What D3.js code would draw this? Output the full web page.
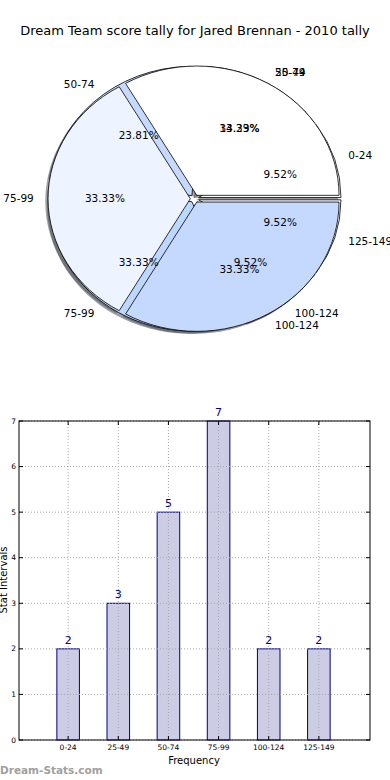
<!DOCTYPE html>
<html><head><meta charset="utf-8">
<script src="https://cdn.jsdelivr.net/npm/d3@7"></script>
<style>body{margin:0;background:#fff}svg{display:block}text{font-family:"DejaVu Sans",sans-serif}</style>
</head><body>
<svg id="c" width="390" height="780"></svg>
<script>
const categories = ["0-24","25-49","50-74","75-99","100-124","125-149"];
const values = [2,3,5,7,2,2];
const pie2Labels = ["50-74","75-99","100-124"];
const pie2Values = [7,7,7];
const pie1Colors = ["#ffffff","#eef3fe","#c6daff","#bcd8ff","#c6daff","#ffffff"];
const pie2Colors = ["#ffffff","#edf3ff","#c5d9ff"];
const yTicks = [0,1,2,3,4,5,6,7];
const title = "Dream Team score tally for Jared Brennan - 2010 tally";

const svg = d3.select("#c");
svg.append("text").attr("x",195).attr("y",35).attr("text-anchor","middle")
  .attr("font-size",13).attr("fill","#000").text(title);

// ---- Pie ----
const cx=194.6, cy=198.7, rx=142.3, ry=129.3;
const explodes=[0.03,0.03];
const pieGen = d3.pie().sort(null).startAngle(Math.PI/2).endAngle(Math.PI/2-2*Math.PI);
const arcGen = d3.arc().innerRadius(0).outerRadius(1);
const pies = [
  {arcs: pieGen(values), labels: categories, colors: pie1Colors, total: d3.sum(values), e: explodes[0]},
  {arcs: pieGen(pie2Values), labels: pie2Labels, colors: pie2Colors, total: d3.sum(pie2Values), e: explodes[1]}
];
function off(a){ const m=(a.startAngle+a.endAngle)/2; return [Math.sin(m), -Math.cos(m)]; }
const gShadow = svg.append("g"), gWedge = svg.append("g"), gText = svg.append("g");
function shade(c){ const r=d3.rgb(c); return d3.rgb(r.r*0.3,r.g*0.3,r.b*0.3).toString(); }
pies.forEach(p=>{
  p.arcs.forEach((a,i)=>{
    const [ox,oy]=off(a);
    gShadow.append("path").attr("d",arcGen(a))
      .attr("transform",`translate(${cx+p.e*ox*rx-2.8},${cy+p.e*oy*ry+2.6}) scale(${rx},${ry})`)
      .attr("fill",shade(p.colors[i])).attr("fill-opacity",0.5).attr("stroke","none");
  });
});
pies.forEach(p=>{
  p.arcs.forEach((a,i)=>{
    const [ox,oy]=off(a);
    gWedge.append("path").attr("d",arcGen(a))
      .attr("transform",`translate(${cx+p.e*ox*rx},${cy+p.e*oy*ry}) scale(${rx},${ry})`)
      .attr("fill",p.colors[i]).attr("stroke","#000").attr("stroke-width",0.8)
      .attr("vector-effect","non-scaling-stroke");
  });
});
pies.forEach(p=>{
  p.arcs.forEach((a,i)=>{
    const [ox,oy]=off(a);
    const bx=cx+p.e*ox*rx, by=cy+p.e*oy*ry;
    gText.append("text").attr("x",bx+1.1*ox*rx).attr("y",by+1.1*oy*ry).attr("dy","0.35em")
      .attr("text-anchor", ox>=0?"start":"end").attr("font-size",10.5).attr("fill","#000")
      .text(p.labels[i]);
    gText.append("text").attr("x",bx+0.6*ox*rx).attr("y",by+0.6*oy*ry).attr("dy","0.35em")
      .attr("text-anchor","middle").attr("font-size",10.5).attr("fill","#000")
      .text((a.value/p.total*100).toFixed(2)+"%");
  });
});

// ---- Bars ----
const L=19, R=370, T=421, B=740;
const x = d3.scaleLinear().domain([0,7]).range([L,R]);
const y = d3.scaleLinear().domain([0,7]).range([B,T]);
const bw = 0.45;
const gb = svg.append("g");
gb.selectAll("rect.bar").data(values).join("rect").attr("class","bar")
  .attr("x",(d,i)=>x(i+0.98-bw/2)).attr("width",x(bw)-x(0))
  .attr("y",d=>y(d)).attr("height",d=>B-y(d))
  .attr("fill","#ccccE5").attr("stroke","#000080").attr("stroke-width",1);
gb.selectAll(".gx").data(categories).join("line")
  .attr("x1",(d,i)=>x(i+0.98)).attr("x2",(d,i)=>x(i+0.98)).attr("y1",T).attr("y2",B)
  .attr("stroke","#a8a8b0").attr("stroke-width",1).attr("stroke-dasharray","1,2");
gb.selectAll(".gy").data(yTicks).join("line")
  .attr("x1",L).attr("x2",R).attr("y1",d=>y(d)).attr("y2",d=>y(d))
  .attr("stroke","#a8a8b0").attr("stroke-width",1).attr("stroke-dasharray","1,2");
gb.selectAll("text.val").data(values).join("text").attr("class","val")
  .attr("x",(d,i)=>x(i+0.98)).attr("y",d=>y(d)-5).attr("text-anchor","middle")
  .attr("font-size",11).attr("fill","#000080").text(d=>d);
gb.append("rect").attr("x",L).attr("y",T).attr("width",R-L).attr("height",B-T)
  .attr("fill","none").attr("stroke","#000").attr("stroke-width",1);
yTicks.forEach(t=>{
  gb.append("line").attr("x1",L).attr("x2",L+4).attr("y1",y(t)).attr("y2",y(t)).attr("stroke","#000");
  gb.append("line").attr("x1",R-4).attr("x2",R).attr("y1",y(t)).attr("y2",y(t)).attr("stroke","#000");
  gb.append("text").attr("x",L-3).attr("y",y(t)).attr("dy","0.35em").attr("text-anchor","end")
    .attr("font-size",7.5).attr("fill","#000").text(t);
});
categories.forEach((c,i)=>{
  const xx=x(i+0.98);
  gb.append("line").attr("x1",xx).attr("x2",xx).attr("y1",B).attr("y2",B-4).attr("stroke","#000");
  gb.append("line").attr("x1",xx).attr("x2",xx).attr("y1",T).attr("y2",T+4).attr("stroke","#000");
  gb.append("text").attr("x",xx).attr("y",B+9.5).attr("text-anchor","middle")
    .attr("font-size",7.5).attr("fill","#000").text(c);
});
gb.append("text").attr("x",194).attr("y",764).attr("text-anchor","middle")
  .attr("font-size",10).attr("fill","#000").text("Frequency");
gb.append("text").attr("transform","translate(7,580) rotate(-90)").attr("text-anchor","middle")
  .attr("font-size",10).attr("fill","#000").text("Stat Intervals");
svg.append("text").attr("x",0).attr("y",774).attr("font-size",10.5).attr("font-weight","bold")
  .attr("fill","#a0a0a0").text("Dream-Stats.com");
</script>
</body></html>
